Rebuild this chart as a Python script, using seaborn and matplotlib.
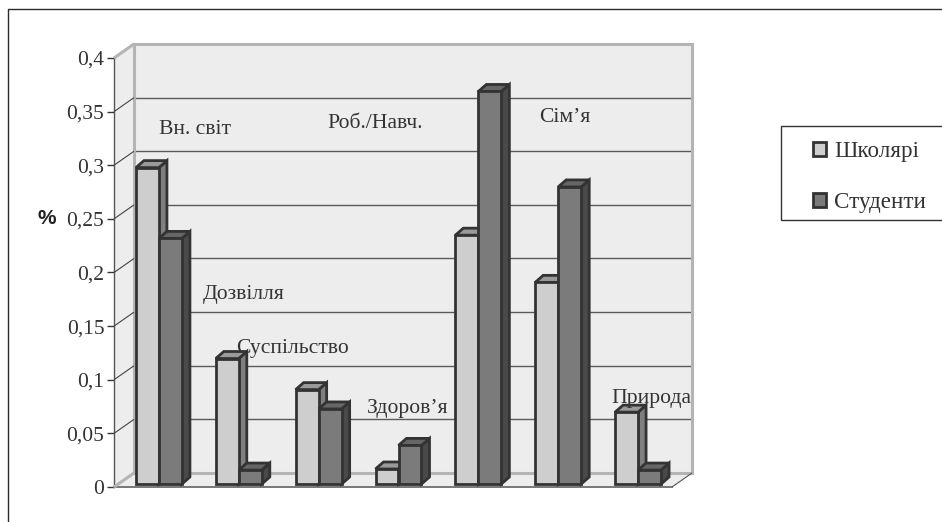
import matplotlib
matplotlib.use("Agg")
import matplotlib.pyplot as plt
import seaborn as sns
import pandas as pd
from matplotlib.patches import Polygon, Rectangle
from matplotlib.lines import Line2D

categories = ["Вн. світ", "Дозвілля", "Суспільство", "Здоров’я", "Роб./Навч.", "Сім’я", "Природа"]
schoolchildren = [0.295, 0.117, 0.088, 0.014, 0.232, 0.188, 0.067]
students = [0.229, 0.013, 0.070, 0.036, 0.366, 0.277, 0.013]
series_names = ["Школярі", "Студенти"]
y_ticks = [0, 0.05, 0.1, 0.15, 0.2, 0.25, 0.3, 0.35, 0.4]
y_tick_labels = ["0", "0,05", "0,1", "0,15", "0,2", "0,25", "0,3", "0,35", "0,4"]

W, H = 942, 522
sns.set_theme(style="white")
plt.rcParams["font.family"] = ["Liberation Serif", "DejaVu Sans"]
TXT = "#333333"
DARK = "#333333"
WALL = "#ededed"
EDGE = "#b4b4b4"

fig = plt.figure(figsize=(W / 100, H / 100), dpi=100, facecolor="white")


def fx(x):
    return x / W


def fy(y):
    return 1 - y / H


def box(l, t, r, b):
    return [fx(l), fy(b), (r - l) / W, (b - t) / H]


def fig_line(xs, ys, color=DARK, lw=1.0, z=1):
    fig.add_artist(Line2D([fx(v) for v in xs], [fy(v) for v in ys], color=color, lw=lw,
                          transform=fig.transFigure, zorder=z, solid_capstyle="butt"))


def fig_poly(pts, color, z=-2):
    fig.add_artist(Polygon([(fx(a), fy(b)) for a, b in pts], closed=True, facecolor=color,
                           edgecolor="none", transform=fig.transFigure, zorder=z))


# outer frame, open to the right and below
fig_line([7.5, 7.5, W], [H, 8.5, 8.5], color="#2b2b2b", lw=1.0, z=5)

# back wall with real gridlines
FL, FR, FB, FT = 114, 672, 487, 58
DX, DY = 20, 14
ax_back = fig.add_axes(box(FL + DX, FT - DY, FR + DX, FB - DY), zorder=1, facecolor=WALL)
ax_back.set_ylim(0, 0.4)
ax_back.set_xlim(0, 1)
ax_back.set_yticks(y_ticks)
ax_back.tick_params(left=False, bottom=False, labelleft=False, labelbottom=False)
ax_back.set_xticks([])
ax_back.grid(axis="y", color="#5a5a5a", lw=1.0)
ax_back.set_axisbelow(True)
for s in ax_back.spines.values():
    s.set_color(EDGE)
    s.set_linewidth(2.2)

# left wall and floor
fig_poly([(FL, FB), (FL, FT), (FL + DX, FT - DY), (FL + DX, FB - DY)], WALL)
fig_poly([(FL, FB), (FR, FB), (FR + DX, FB - DY), (FL + DX, FB - DY)], WALL)

# front plane: the value axis
ax_front = fig.add_axes(box(FL, FT, FR, FB), zorder=2)
ax_front.patch.set_visible(False)
ax_front.set_ylim(0, 0.4)
ax_front.set_xlim(0, 1)
ax_front.set_xticks([])
ax_front.set_yticks(y_ticks)
ax_front.set_yticklabels(y_tick_labels, fontsize=15.5, color=TXT)
ax_front.tick_params(axis="y", left=True, length=5, width=1, color=DARK, pad=2)
for name, s in ax_front.spines.items():
    s.set_visible(name in ("left", "bottom"))
ax_front.spines["left"].set_color("#555555")
ax_front.spines["left"].set_linewidth(1)
ax_front.spines["bottom"].set_color("#777777")
ax_front.spines["bottom"].set_linewidth(1.4)

# depth strokes on the walls
for v in y_ticks[1:-1]:
    yp = ax_front.transData.transform((0, v))[1]
    ypx = H - yp
    fig_line([FL, FL + DX], [ypx, ypx - DY], color="#444444", lw=0.8, z=3)
fig_line([FL, FL + DX], [FT, FT - DY], color=EDGE, lw=2.2, z=3)
fig_line([FL, FL + DX], [FB, FB - DY], color=EDGE, lw=2.2, z=3)
fig_line([FR, FR + DX], [FB, FB - DY], color="#555555", lw=0.8, z=3)

# bars
df = pd.DataFrame({
    "cat": categories * 2,
    "val": schoolchildren + students,
    "ser": [series_names[0]] * len(categories) + [series_names[1]] * len(categories),
})
ax = fig.add_axes(box(119, 55, 678, 484), zorder=4)
ax.patch.set_visible(False)
sns.barplot(data=df, x="cat", y="val", hue="ser", order=categories, hue_order=series_names,
            palette=["#cecece", "#7b7b7b"], width=0.576, gap=0, saturation=1,
            edgecolor=DARK, linewidth=2, ax=ax, legend=False)
ax.set_ylim(0, 0.4)
ax.set_xlim(-0.5, 6.5)
ax.set_axis_off()

fig.canvas.draw()
BDX, BDY = 8, 7
shades = [("#7f7f7f", "#9a9a9a"), ("#4a4a4a", "#666666")]
for si, cont in enumerate(ax.containers):
    for bar in cont:
        x0, y0 = ax.transData.transform((bar.get_x(), 0))
        x1, y1 = ax.transData.transform((bar.get_x() + bar.get_width(), bar.get_height()))
        z = 2 + si * 2
        bar.set_zorder(z + 1)
        bar.set_clip_on(False)
        side = [(x1, y0), (x1 + BDX, y0 + BDY), (x1 + BDX, y1 + BDY), (x1, y1)]
        top = [(x0, y1), (x1, y1), (x1 + BDX, y1 + BDY), (x0 + BDX, y1 + BDY)]
        for pts, col in ((side, shades[si][0]), (top, shades[si][1])):
            ax.add_patch(Polygon(pts, closed=True, facecolor=col, edgecolor=DARK, lw=2,
                                 transform=None, zorder=z, clip_on=False, joinstyle="miter"))

# category captions
label_pos = [(159, 129), (203, 294), (236, 348), (367, 408), (327, 124), (539, 117), (611, 399)]
for t, (px, py) in zip(categories, label_pos):
    fig.text(fx(px), fy(py), t, fontsize=15.6, color=TXT, ha="left", va="center", zorder=8)

fig.text(fx(38), fy(218), "%", fontsize=15, fontweight="bold", family="Liberation Sans",
         color="#222222", ha="left", va="center", zorder=8)

# legend
fig.add_artist(Rectangle((fx(781), fy(220)), (960 - 781) / W, (220 - 126) / H, facecolor="white",
                         edgecolor=DARK, lw=1, transform=fig.transFigure, zorder=-1))
handles = [Rectangle((0, 0), 1, 1, facecolor=c, edgecolor=DARK, lw=2) for c in ("#cecece", "#7b7b7b")]
fig.legend(handles, series_names, loc="center left", bbox_to_anchor=(fx(813), fy(177)),
           frameon=False, fontsize=16.6, labelcolor=TXT, handlelength=0.56, handleheight=0.56,
           handletextpad=0.35, labelspacing=1.3, borderpad=0, borderaxespad=0)

fig.savefig("out.png", dpi=100)
